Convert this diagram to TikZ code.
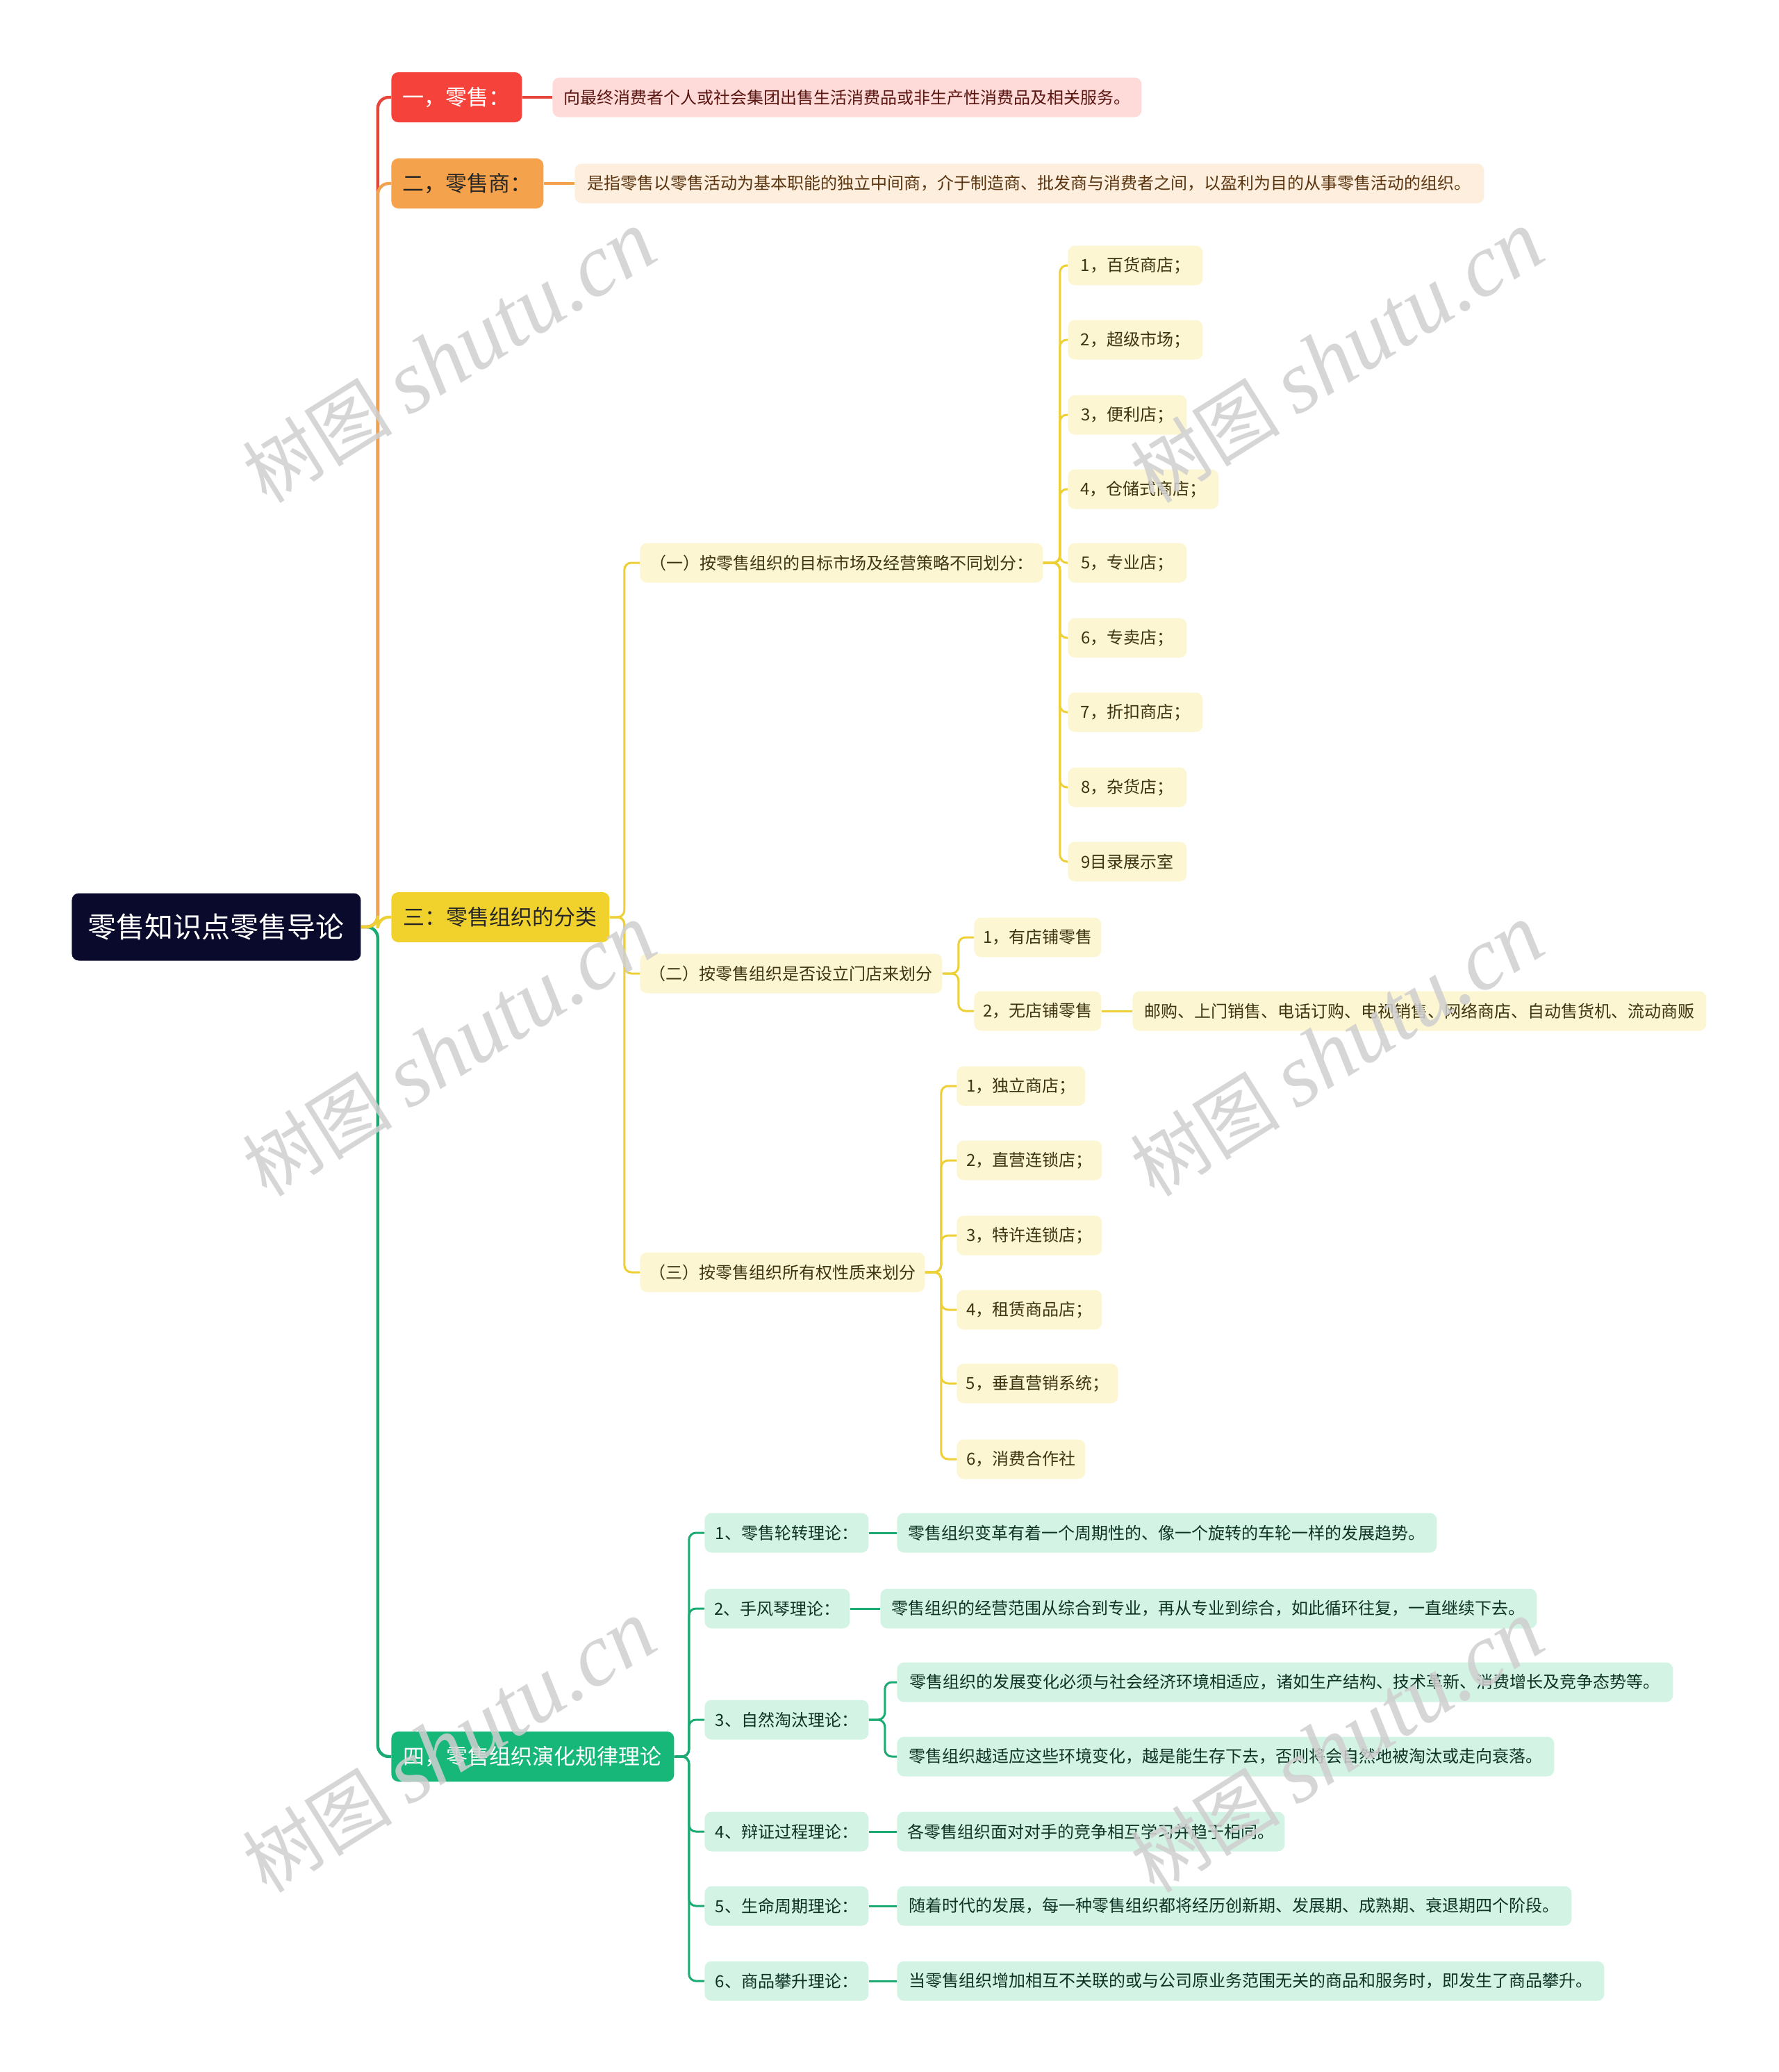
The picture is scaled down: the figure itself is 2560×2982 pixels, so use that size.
\documentclass[tikz,border=0pt]{standalone}
\usepackage{fontspec}
\setmainfont{Noto Sans CJK SC}
\newfontfamily\wmlatin{Liberation Serif}
\definecolor{rootc}{HTML}{0A0A2C}
\definecolor{redc}{HTML}{F5433B}
\definecolor{redl}{HTML}{FEDBD9}
\definecolor{redt}{HTML}{5A1510}
\definecolor{redk}{HTML}{E5453A}
\definecolor{orc}{HTML}{F4A24B}
\definecolor{orl}{HTML}{FDEEDD}
\definecolor{ort}{HTML}{5A3510}
\definecolor{ork}{HTML}{F0A24E}
\definecolor{yec}{HTML}{F1D22C}
\definecolor{yel}{HTML}{FDF6D3}
\definecolor{yet}{HTML}{3E3510}
\definecolor{yek}{HTML}{EDCF36}
\definecolor{grc}{HTML}{17B77A}
\definecolor{grl}{HTML}{D3F3E4}
\definecolor{grt}{HTML}{0D3325}
\definecolor{grk}{HTML}{1AAA72}
\definecolor{wmc}{HTML}{CFCFCF}
\begin{document}
\begin{tikzpicture}[x=0.5pt,y=-0.5pt,
  base/.style={anchor=west, inner sep=0pt, rounded corners=5pt, align=center},
  leaf/.style={base, minimum height=28.5pt, font=\fontsize{12}{14}\selectfont},
  main/.style={base, minimum height=36pt, font=\fontsize{15.5}{18}\selectfont},
  yleaf/.style={leaf, fill=yel, text=yet},
  gleaf/.style={leaf, fill=grl, text=grt},
  conn/.style={line width=1.5pt, rounded corners=5pt},
  conn1/.style={line width=2.2pt, rounded corners=8pt},
  wm/.style={rotate=32, text=wmc, opacity=0.85, font=\fontsize{54}{60}\selectfont}
]
\useasboundingbox (0,0) rectangle (2560,2982);

% root and main branches
\node[base, minimum width=208pt, minimum height=48.5pt, fill=rootc, text=white, font=\fontsize{20.5}{24}\selectfont] (root) at (103,1334) {零售知识点零售导论};
\node[main, fill=redc, text=white, minimum width=94pt] (a1) at (563,140) {一，零售：};
\node[main, fill=orc, text=black!85, minimum width=109.5pt] (a2) at (563,264) {二，零售商：};
\node[main, fill=yec, text=black!85, minimum width=157pt] (a3) at (563,1320) {三：零售组织的分类};
\node[main, fill=grc, text=white, minimum width=203.5pt] (a4) at (563,2528) {四，零售组织演化规律理论};

\node[leaf, fill=redl, text=redt, minimum width=424pt] (d1) at (795,140) {向最终消费者个人或社会集团出售生活消费品或非生产性消费品及相关服务。};
\node[leaf, fill=orl, text=ort, minimum width=654.5pt] (d2) at (827,264) {是指零售以零售活动为基本职能的独立中间商，介于制造商、批发商与消费者之间，以盈利为目的从事零售活动的组织。};

% yellow branch
\node[yleaf, minimum width=290pt] (b1) at (921,810) {（一）按零售组织的目标市场及经营策略不同划分：};
\node[yleaf, minimum width=217.5pt] (b2) at (921,1401) {（二）按零售组织是否设立门店来划分};
\node[yleaf, minimum width=205pt] (b3) at (921,1831) {（三）按零售组织所有权性质来划分};

\node[yleaf, minimum width=97pt] (c1) at (1537,382) {1，百货商店；};
\node[yleaf, minimum width=97pt] (c2) at (1537,489) {2，超级市场；};
\node[yleaf, minimum width=85.5pt] (c3) at (1537,597) {3，便利店；};
\node[yleaf, minimum width=108.5pt] (c4) at (1537,704) {4，仓储式商店；};
\node[yleaf, minimum width=85.5pt] (c5) at (1537,810) {5，专业店；};
\node[yleaf, minimum width=85.5pt] (c6) at (1537,918) {6，专卖店；};
\node[yleaf, minimum width=97pt] (c7) at (1537,1025) {7，折扣商店；};
\node[yleaf, minimum width=85.5pt] (c8) at (1537,1133) {8，杂货店；};
\node[yleaf, minimum width=85.5pt] (c9) at (1537,1240) {9目录展示室};

\node[yleaf, minimum width=91.5pt] (e1) at (1402,1349) {1，有店铺零售};
\node[yleaf, minimum width=91.5pt] (e2) at (1402,1455) {2，无店铺零售};
\node[yleaf, minimum width=413pt] (e3) at (1630,1455) {邮购、上门销售、电话订购、电视销售、网络商店、自动售货机、流动商贩};

\node[yleaf, minimum width=92.5pt] (f1) at (1377,1563) {1，独立商店；};
\node[yleaf, minimum width=104.5pt] (f2) at (1377,1670) {2，直营连锁店；};
\node[yleaf, minimum width=104.5pt] (f3) at (1377,1778) {3，特许连锁店；};
\node[yleaf, minimum width=104.5pt] (f4) at (1377,1885) {4，租赁商品店；};
\node[yleaf, minimum width=116pt] (f5) at (1377,1991) {5，垂直营销系统；};
\node[yleaf, minimum width=92.5pt] (f6) at (1377,2100) {6，消费合作社};

% green branch
\node[gleaf, minimum width=118pt] (g1) at (1014,2206) {1、零售轮转理论：};
\node[gleaf, minimum width=104.5pt] (g2) at (1014,2315) {2、手风琴理论：};
\node[gleaf, minimum width=118pt] (g3) at (1014,2475) {3、自然淘汰理论：};
\node[gleaf, minimum width=118pt] (g4) at (1014,2636) {4、辩证过程理论：};
\node[gleaf, minimum width=118pt] (g5) at (1014,2743) {5、生命周期理论：};
\node[gleaf, minimum width=118pt] (g6) at (1014,2851) {6、商品攀升理论：};

\node[gleaf, minimum width=388.5pt] (h1) at (1291,2206) {零售组织变革有着一个周期性的、像一个旋转的车轮一样的发展趋势。};
\node[gleaf, minimum width=472.5pt] (h2) at (1267,2315) {零售组织的经营范围从综合到专业，再从专业到综合，如此循环往复，一直继续下去。};
\node[gleaf, minimum width=558.5pt] (h3a) at (1291,2421) {零售组织的发展变化必须与社会经济环境相适应，诸如生产结构、技术革新、消费增长及竞争态势等。};
\node[gleaf, minimum width=473pt] (h3b) at (1291,2528) {零售组织越适应这些环境变化，越是能生存下去，否则将会自然地被淘汰或走向衰落。};
\node[gleaf, minimum width=279pt] (h4) at (1291,2636) {各零售组织面对对手的竞争相互学习并趋于相同。};
\node[gleaf, minimum width=485.5pt] (h5) at (1291,2743) {随着时代的发展，每一种零售组织都将经历创新期、发展期、成熟期、衰退期四个阶段。};
\node[gleaf, minimum width=509pt] (h6) at (1291,2851) {当零售组织增加相互不关联的或与公司原业务范围无关的商品和服务时，即发生了商品攀升。};

% connectors level 1
\draw[conn1, draw=grk] (root.east) -- ++(12pt,0) |- (a4.west);
\draw[conn1, draw=redk] (root.east) -- ++(12pt,0) |- (a1.west);
\draw[conn1, draw=ork] (root.east) -- ++(12pt,0) |- (a2.west);
\draw[conn1, draw=yek] (root.east) -- ++(12pt,0) |- (a3.west);
\draw[line width=2pt, draw=redk] (a1.east) -- (d1.west);
\draw[line width=2pt, draw=ork] (a2.east) -- (d2.west);

% yellow connectors
\foreach \t in {b1,b2,b3} \draw[conn, draw=yek] (a3.east) -- ++(10.5pt,0) |- (\t.west);
\foreach \t in {c1,c2,c3,c4,c5,c6,c7,c8,c9} \draw[conn, draw=yek] (b1.east) -- ++(12pt,0) |- (\t.west);
\foreach \t in {e1,e2} \draw[conn, draw=yek] (b2.east) -- ++(11.5pt,0) |- (\t.west);
\draw[conn, draw=yek] (e2.east) -- (e3.west);
\foreach \t in {f1,f2,f3,f4,f5,f6} \draw[conn, draw=yek] (b3.east) -- ++(11.5pt,0) |- (\t.west);

% green connectors
\foreach \t in {g1,g2,g3,g4,g5,g6} \draw[conn, draw=grk] (a4.east) -- ++(10.5pt,0) |- (\t.west);
\draw[conn, draw=grk] (g1.east) -- (h1.west);
\draw[conn, draw=grk] (g2.east) -- (h2.west);
\foreach \t in {h3a,h3b} \draw[conn, draw=grk] (g3.east) -- ++(11.5pt,0) |- (\t.west);
\draw[conn, draw=grk] (g4.east) -- (h4.west);
\draw[conn, draw=grk] (g5.east) -- (h5.west);
\draw[conn, draw=grk] (g6.east) -- (h6.west);

% watermarks
\foreach \p [count=\i] in {(647,514),(1925,514),(647,1512),(1925,1512),(647,2514),(1925,2514)}
  \node[wm] (wm\i) at \p {树图 {\wmlatin\itshape\fontsize{64}{70}\selectfont shutu.cn}};
\end{tikzpicture}
\end{document}
